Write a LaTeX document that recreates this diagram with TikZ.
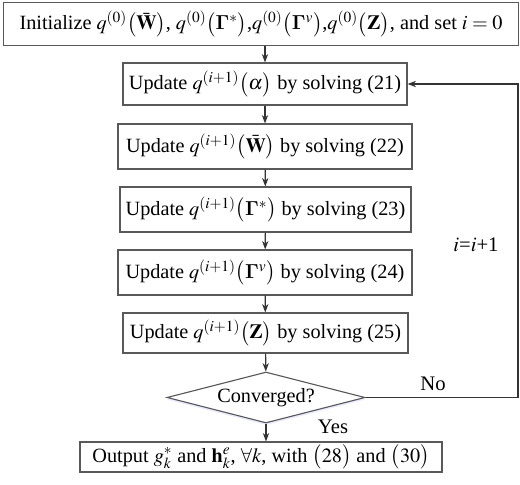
\documentclass[tikz,border=0pt]{standalone}
\usepackage{amsmath}
\usepackage{amssymb}
\usepackage{bm}
\usepackage{mathptmx}
\usepackage[no-math]{fontspec}
\setmainfont{Liberation Serif}
\usetikzlibrary{shapes.geometric,arrows.meta,shadows}

\begin{document}
\begin{tikzpicture}[x=0.025cm,y=-0.025cm,
    stepbox/.style={draw=black!65, thick, inner sep=0pt, font=\fontsize{14.4}{17}\selectfont},
    test/.style={diamond, shape aspect=4, draw=black!65, thick, fill=white, inner sep=0pt,
        minimum width=4.95cm, minimum height=1.275cm, font=\fontsize{14.4}{17}\selectfont,
        drop shadow={fill=blue!35, opacity=0.25, shadow xshift=0pt, shadow yshift=-1.5pt}},
    flow/.style={-{Stealth[length=6pt,width=4.5pt]}, thick, black!80},
    lbl/.style={font=\fontsize{14.7}{17}\selectfont}]
    \useasboundingbox (0,0) rectangle (520,485);

    % Initialization
    \node[stepbox, minimum width=12.85cm, minimum height=1.075cm] (init) at (261,24)
        {Initialize $q^{(0)}\bigl(\bar{\mathbf{W}}\bigr)$, $q^{(0)}\bigl(\bm{\Gamma}^{*}\bigr)$,$q^{(0)}\bigl(\bm{\Gamma}^{v}\bigr)$,$q^{(0)}\bigl(\mathbf{Z}\bigr)$, and set $i=0$};

    % Update steps
    \node[stepbox, minimum width=7.1cm, minimum height=1.05cm] (alpha) at (265,84)
        {Update $q^{(i+1)}\bigl(\alpha\bigr)$ by solving (21)};
    \node[stepbox, minimum width=7.35cm, minimum height=1.125cm] (wbar) at (265,146.5)
        {Update $q^{(i+1)}\bigl(\bar{\mathbf{W}}\bigr)$ by solving (22)};
    \node[stepbox, minimum width=7.275cm, minimum height=1.125cm] (gstar) at (265.5,209.5)
        {Update $q^{(i+1)}\bigl(\bm{\Gamma}^{*}\bigr)$ by solving (23)};
    \node[stepbox, minimum width=7.35cm, minimum height=1.125cm] (gv) at (265,272.5)
        {Update $q^{(i+1)}\bigl(\bm{\Gamma}^{v}\bigr)$ by solving (24)};
    \node[stepbox, minimum width=7.125cm, minimum height=1.0cm] (zmat) at (265.5,333)
        {Update $q^{(i+1)}\bigl(\mathbf{Z}\bigr)$ by solving (25)};

    % Check and output
    \node[test] (conv) at (266,397.5) {Converged?};
    \node[stepbox, minimum width=9.05cm, minimum height=0.75cm] (out) at (261,457)
        {Output $g_k^{*}$ and $\mathbf{h}_k^{e}$, $\forall k$, with $\bigl(28\bigr)$ and $\bigl(30\bigr)$};

    % Arrows
    \draw[flow] (init.south -| alpha) -- (alpha);
    \draw[flow] (alpha) -- (wbar);
    \draw[flow] (wbar) -- (gstar);
    \draw[flow] (gstar) -- (gv);
    \draw[flow] (gv) -- (zmat);
    \draw[flow] (zmat) -- (conv);
    \draw[flow] (conv.south) -- (conv.south |- out.north);
    \coordinate (back) at (518,397.5);
    \draw[flow] (conv.east) -- (back) |- (alpha.east);

    % Labels
    \node[lbl] (no) at (433,384) {No};
    \node[lbl] (yes) at (333,427) {Yes};
    \node[lbl] (incr) at (476,245) {$i$=$i$+1};
\end{tikzpicture}
\end{document}
